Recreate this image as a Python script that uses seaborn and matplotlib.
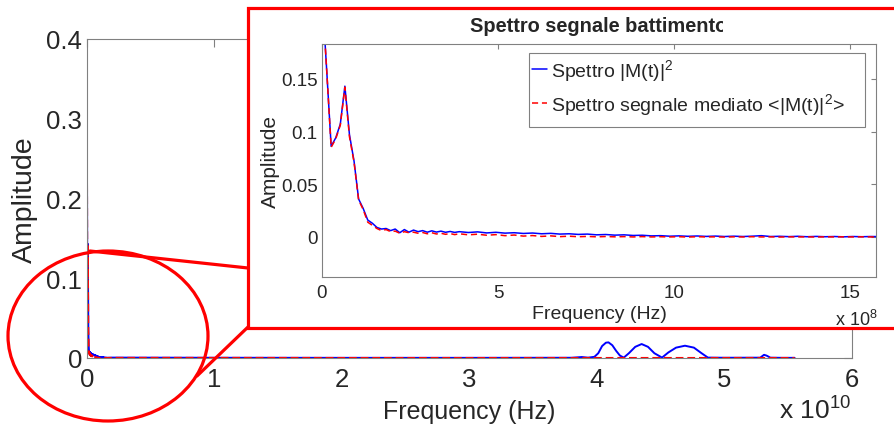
import matplotlib
matplotlib.use("Agg")
import matplotlib.pyplot as plt
import numpy as np
import pandas as pd
import seaborn as sns
from matplotlib.patches import Rectangle, Ellipse
from matplotlib.lines import Line2D
from matplotlib.transforms import Bbox, TransformedBbox

# ---- data -------------------------------------------------------------
# Low-frequency part of the beat-signal spectrum (frequency in units of 1e8 Hz)
freq_low_e8 = [0.00, 0.13, 0.26, 0.39, 0.52, 0.65, 0.78, 0.91, 1.04, 1.17,
               1.30, 1.43, 1.56, 1.69, 1.82, 1.95, 2.08, 2.21, 2.34, 2.47,
               2.60, 2.73, 2.86, 2.99, 3.12, 3.25, 3.38, 3.51, 3.64, 3.77,
               3.90, 4.16, 4.42, 4.68, 4.94, 5.20, 5.46, 5.72, 5.98, 6.24,
               6.50, 6.76, 7.02, 7.28, 7.54, 7.80, 8.06, 8.32, 8.58, 8.84,
               9.10, 9.36, 9.62, 9.88, 10.14, 10.40, 10.66, 10.92, 11.18, 11.44,
               11.70, 11.96, 12.22, 12.48, 12.74, 13.00, 13.26, 13.52, 13.78, 14.04,
               14.30, 14.56, 14.82, 15.08, 15.34, 15.60, 15.86]

# Spectrum of |M(t)|^2
amp_inst_low = [0.232, 0.160, 0.086, 0.094, 0.107, 0.143, 0.097, 0.072, 0.036, 0.027,
                0.016, 0.013, 0.009, 0.0075, 0.008, 0.006, 0.0075, 0.004, 0.007, 0.0045,
                0.0065, 0.005, 0.006, 0.0045, 0.0058, 0.0046, 0.0055, 0.0044, 0.0052, 0.0043,
                0.005, 0.0042, 0.0048, 0.0038, 0.0044, 0.0036, 0.004, 0.0033, 0.0037, 0.003,
                0.0034, 0.0027, 0.003, 0.0024, 0.0027, 0.002, 0.0023, 0.0017, 0.002, 0.0014,
                0.0016, 0.001, 0.0012, 0.0007, 0.001, 0.0006, 0.0009, 0.0005, 0.0008, 0.0004,
                0.0007, 0.0004, 0.0007, 0.0012, 0.0004, 0.0006, 0.0003, 0.0006, 0.0002, 0.0005,
                0.0002, 0.0004, 0.0001, 0.0004, 0.0002, 0.0004, 0.0003]

# Spectrum of the averaged signal <|M(t)|^2>
amp_avg_low = [0.232, 0.160, 0.085, 0.093, 0.106, 0.142, 0.095, 0.071, 0.035, 0.026,
               0.014, 0.011, 0.008, 0.006, 0.007, 0.005, 0.0055, 0.0035, 0.005, 0.004,
               0.0045, 0.0035, 0.0042, 0.003, 0.004, 0.0028, 0.0035, 0.0025, 0.0032, 0.0022,
               0.003, 0.002, 0.0026, 0.0016, 0.0022, 0.0012, 0.0018, 0.0008, 0.0013, 0.0005,
               0.001, 0.0003, 0.0007, 0.0002, 0.0005, 0.0001, 0.0004, 0.0001, 0.0003, 0.0,
               0.0003, 0.0, 0.0002, 0.0, 0.0002, -0.0001, 0.0002, 0.0, 0.0001, -0.0001,
               0.0001, 0.0, 0.0002, 0.0, 0.0001, -0.0001, 0.0001, 0.0, 0.0001, -0.0001,
               0.0001, 0.0, 0.0001, 0.0, 0.0001, 0.0, 0.0001]

# High-frequency part (frequency in units of 1e10 Hz)
freq_high_e10 = [0.2, 1.0, 2.0, 3.0, 3.8, 3.88, 3.93, 3.98, 4.01, 4.04,
                 4.07, 4.09, 4.12, 4.15, 4.18, 4.21, 4.25, 4.30, 4.35, 4.40,
                 4.45, 4.51, 4.56, 4.62, 4.69, 4.76, 4.82, 4.87, 5.0, 5.28,
                 5.31, 5.33, 5.36, 5.45, 5.55]
amp_inst_high = [0.0005, 0.0003, 0.0002, 0.0002, 0.0003, 0.0012, 0.0004, 0.0015, 0.006, 0.015,
                 0.0192, 0.0196, 0.016, 0.009, 0.003, 0.0005, 0.006, 0.014, 0.0175, 0.014,
                 0.006, 0.0005, 0.007, 0.013, 0.0154, 0.013, 0.006, 0.0005, 0.0003, 0.0004,
                 0.004, 0.003, 0.0004, 0.0002, 0.0002]
amp_avg_high = [0.0002, 0.0002, 0.0001, 0.0001, 0.0001, 0.0001, 0.0001, 0.0001, 0.0001, 0.0001,
                0.0001, 0.0001, 0.0001, 0.0001, 0.0001, 0.0001, 0.0001, 0.0001, 0.0001, 0.0001,
                0.0001, 0.0001, 0.0001, 0.0001, 0.0001, 0.0001, 0.0001, 0.0001, 0.0001, 0.0001,
                0.0001, 0.0001, 0.0001, 0.0001, 0.0001]

main_xticks = [0, 1, 2, 3, 4, 5, 6]
main_yticks = [0, 0.1, 0.2, 0.3, 0.4]
main_ytick_labels = ["0", "0.1", "0.2", "0.3", "0.4"]
inset_xticks = [0, 5, 10, 15]
inset_yticks = [0, 0.05, 0.1, 0.15]
inset_ytick_labels = ["0", "0.05", "0.1", "0.15"]

label_inst = r"Spettro |M(t)|$^2$"
label_avg = r"Spettro segnale mediato <|M(t)|$^2$>"

# ---- tables ------------------------------------------------------------
low = pd.DataFrame({
    "f_hz": np.array(freq_low_e8) * 1e8,
    "inst": amp_inst_low,
    "avg": amp_avg_low,
})
high = pd.DataFrame({
    "f_hz": np.array(freq_high_e10) * 1e10,
    "inst": amp_inst_high,
    "avg": amp_avg_high,
})
full = pd.concat([low, high], ignore_index=True)
full["f_e10"] = full["f_hz"] / 1e10
low["f_e8"] = low["f_hz"] / 1e8

# ---- style -------------------------------------------------------------
sns.set_style("white")
plt.rcParams["font.family"] = ["Liberation Sans", "DejaVu Sans"]
plt.rcParams["mathtext.fontset"] = "custom"
plt.rcParams["mathtext.rm"] = "Liberation Sans"
plt.rcParams["mathtext.it"] = "Liberation Sans"

BLUE = "#0000ff"
RED = "#ff0000"
GREY = "#808080"

W, H = 895, 427
fig = plt.figure(figsize=(W / 100, H / 100), dpi=100)


def fx(px):
    return px / W


def fy(py):
    return 1 - py / H


# ---- main axes -----------------------------------------------------------
ax = fig.add_axes([fx(87), fy(359), fx(852) - fx(87), fy(40) - fy(359)])
sns.lineplot(data=full, x="f_e10", y="inst", ax=ax, color=BLUE, lw=1.4,
             estimator=None, sort=False)
sns.lineplot(data=full, x="f_e10", y="avg", ax=ax, color=RED, lw=1.4,
             linestyle=(0, (4, 2)), estimator=None, sort=False)
ax.set_xlim(0, 6)
ax.set_ylim(0, 0.4)
ax.set_xticks(main_xticks)
ax.set_xticklabels([str(t) for t in main_xticks])
ax.set_yticks(main_yticks)
ax.set_yticklabels(main_ytick_labels)
ax.tick_params(direction="in", length=5.5, width=0.8, color=GREY,
               top=True, right=True, labelsize=18.5, pad=3.5)
ax.tick_params(axis="x", pad=6.5)
for s in ax.spines.values():
    s.set_color(GREY)
    s.set_linewidth(0.8)
ax.set_xlabel("Frequency (Hz)", fontsize=18, labelpad=6)
ax.set_ylabel("Amplitude", fontsize=20.5, labelpad=6)
fig.text(fx(815), fy(420), r"x 10$^{10}$", fontsize=19, ha="center", va="baseline")

# ---- zoom marker: ellipse, connector lines, framed inset -----------------
fig.add_artist(Ellipse((fx(108), fy(337)), fx(200), 170 / H, transform=fig.transFigure,
                       fill=False, ec=RED, lw=2.3, zorder=1.5))
fig.add_artist(Line2D([fx(90), fx(248)], [fy(252), fy(269)], transform=fig.transFigure,
                      color=RED, lw=2.3, zorder=1.5))
fig.add_artist(Line2D([fx(248), fx(197)], [fy(328), fy(377)], transform=fig.transFigure,
                      color=RED, lw=2.3, zorder=1.5))
fig.add_artist(Rectangle((fx(248), fy(329)), fx(920) - fx(248), 320 / H,
                         transform=fig.transFigure, fc="white", ec=RED, lw=2.3, zorder=2))

# ---- inset axes ----------------------------------------------------------
IX0, IX1, IY0, IY1 = 322, 876, 45, 278
ins = fig.add_axes([fx(IX0), fy(IY1), fx(IX1) - fx(IX0), fy(IY0) - fy(IY1)])
ins.set_zorder(3)
sns.lineplot(data=low, x="f_e8", y="inst", ax=ins, color=BLUE, lw=1.1,
             estimator=None, sort=False, label=label_inst)
sns.lineplot(data=low, x="f_e8", y="avg", ax=ins, color=RED, lw=1.1,
             linestyle=(0, (4, 2.5)), estimator=None, sort=False, label=label_avg)
ins.set_xlim(0, 15.74)
ins.set_ylim(-0.038, 0.183)
ins.set_xticks(inset_xticks)
ins.set_xticklabels([str(t) for t in inset_xticks])
ins.set_yticks(inset_yticks)
ins.set_yticklabels(inset_ytick_labels)
ins.tick_params(direction="in", length=3.5, width=0.8, color=GREY,
                top=True, right=True, labelsize=13.5, pad=3)
ins.tick_params(axis="x", pad=5)
for s in ins.spines.values():
    s.set_color(GREY)
    s.set_linewidth(0.8)
ins.set_xlabel("Frequency (Hz)", fontsize=14, labelpad=3)
ins.set_ylabel("Amplitude", fontsize=15, labelpad=1)
title = ins.set_title("Spettro segnale battimento", fontsize=14.4,
                      fontweight="bold", pad=9)
title.set_clip_box(TransformedBbox(Bbox([[0, 0], [fx(723), 1]]), fig.transFigure))
title.set_clip_on(True)
fig.text(fx(856), fy(326), r"x 10$^{8}$", fontsize=13, ha="center", va="baseline")


def ins_fx(px):
    return (px - IX0) / (IX1 - IX0)


def ins_fy(py):
    return (IY1 - py) / (IY1 - IY0)


# legend box drawn as a plain grey frame, entries placed inside it
LX0, LX1, LY0, LY1 = 529, 865, 54, 128
ins.add_patch(Rectangle((ins_fx(LX0), ins_fy(LY1)), ins_fx(LX1) - ins_fx(LX0),
                        ins_fy(LY0) - ins_fy(LY1), transform=ins.transAxes,
                        fc="white", ec=GREY, lw=0.8, zorder=4))
leg = ins.legend(loc="upper left", bbox_to_anchor=(ins_fx(LX0 + 1), ins_fy(LY0 + 2)),
                 fontsize=14, frameon=False, borderaxespad=0,
                 handlelength=0.8, handletextpad=0.2, borderpad=0.1,
                 labelspacing=0.4)
leg.set_zorder(5)

fig.savefig("out.png", dpi=100)
